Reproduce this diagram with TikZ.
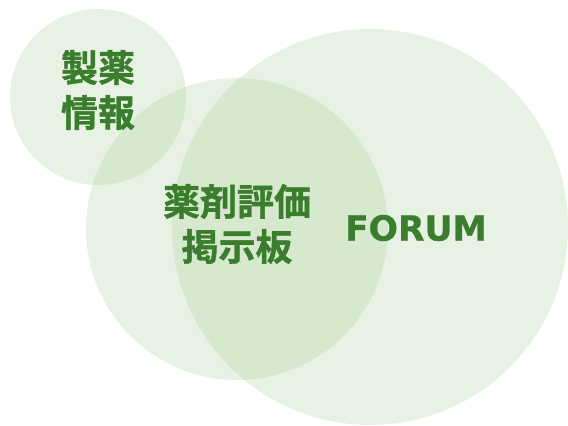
\documentclass[tikz,border=0pt]{standalone}
\usepackage{fontspec}
\newfontfamily\jpfont{Noto Sans CJK JP Bold}[FakeBold=1]
\newfontfamily\lat{DejaVu Sans}[BoldFeatures={FakeBold=0.8}]
\definecolor{circfill}{RGB}{140,190,120}
\definecolor{txtgreen}{RGB}{58,125,44}
\begin{document}
\begin{tikzpicture}[x=1pt,y=-1pt,
  blob/.style={circle, inner sep=0pt, fill=circfill, fill opacity=0.2, draw=none},
  jlabel/.style={text=txtgreen, align=center, inner sep=0pt, font=\jpfont\fontsize{37}{45}\selectfont},
  flabel/.style={text=txtgreen, inner sep=0pt, font=\lat\bfseries\fontsize{34.5}{40}\selectfont}]
\useasboundingbox (0,0) rectangle (568,426);
\node[blob, minimum size=176pt] (c1) at (98,97) {};
\node[blob, minimum size=302pt] (c2) at (237,229) {};
\node[blob, minimum size=396pt] (c3) at (370,227) {};
\node[jlabel] (t1) at (98,90) {製薬\\情報};
\node[jlabel] (t2) at (237,224) {薬剤評価\\掲示板};
\node[flabel] (t3) at (416,228) {FORUM};
\end{tikzpicture}
\end{document}
